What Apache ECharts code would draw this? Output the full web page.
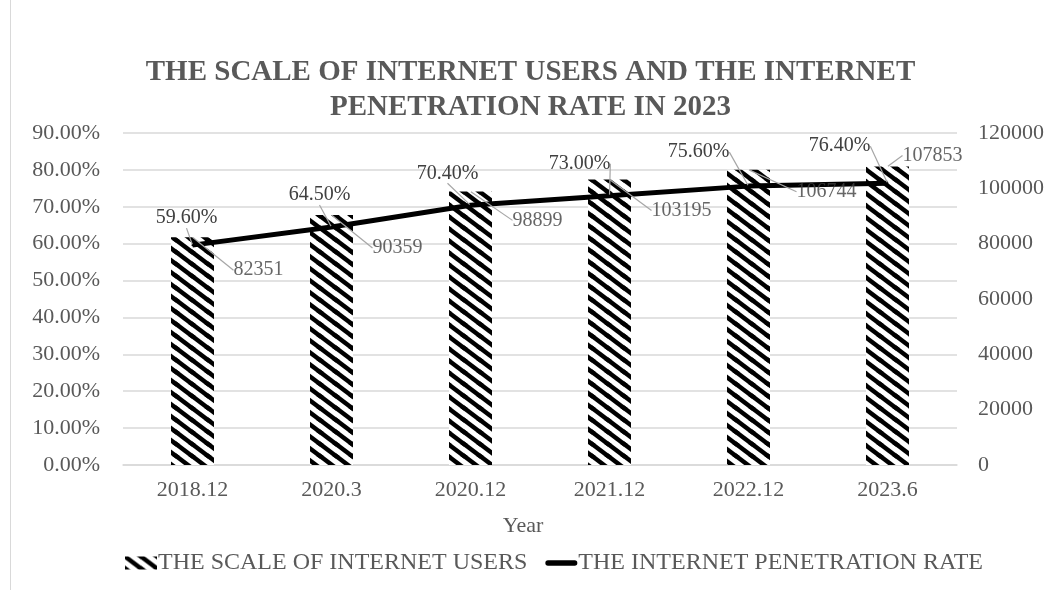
<!DOCTYPE html>
<html>
<head>
<meta charset="utf-8">
<style>
  html, body { margin: 0; padding: 0; background: #ffffff; }
  #chart { width: 1061px; height: 590px; }
</style>
<script src="https://cdn.jsdelivr.net/npm/echarts@6/dist/echarts.min.js"></script>
</head>
<body>
<div id="chart"></div>
<script>
// Survey periods and the two measured series
const periods = ['2018.12', '2020.3', '2020.12', '2021.12', '2022.12', '2023.6'];
const internetUsers = [82351, 90359, 98899, 103195, 106744, 107853];      // ten thousand people
const penetrationRate = [59.6, 64.5, 70.4, 73.0, 75.6, 76.4];              // percent

// Where each data label sits relative to its point (pixels)
const rateLabelShift = [[-6, -27], [-12, -32], [-23, -32], [-30, -32], [-50, -34], [-48, -37]];
const userLabelShift = [[66, 33], [66, 33], [67, 29], [72, 31], [78, 22], [45, -11]];

const FONT = '"Liberation Serif", "Times New Roman", serif';
const GREY = '#595959';

// Wide downward-diagonal hatch used to fill the bars
function makeHatch() {
  const w = 16, h = 12;
  const c = document.createElement('canvas');
  c.width = w; c.height = h;
  const ctx = c.getContext('2d');
  ctx.fillStyle = '#ffffff';
  ctx.fillRect(0, 0, w, h);
  ctx.strokeStyle = '#000000';
  ctx.lineWidth = 4.5;
  [[-w, 0], [0, 0], [w, 0], [0, -h], [0, h]].forEach(([ox, oy]) => {
    ctx.beginPath();
    ctx.moveTo(ox - w, oy - h);
    ctx.lineTo(ox + 2 * w, oy + 2 * h);
    ctx.stroke();
  });
  return c;
}
const hatch = { image: makeHatch(), repeat: 'repeat' };

// Thick round-ended stroke for the rate series legend key
const lineKey = 'path://M3,0 L33,0 A3,3 0 0 1 33,6 L3,6 A3,3 0 0 1 3,0 Z';

const chart = echarts.init(document.getElementById('chart'), null, { renderer: 'canvas' });

chart.setOption({
  backgroundColor: '#ffffff',
  animation: false,
  title: {
    text: 'THE SCALE OF INTERNET USERS AND THE INTERNET\nPENETRATION RATE IN 2023',
    left: 'center',
    top: 50,
    textStyle: { fontFamily: FONT, fontWeight: 'bold', fontSize: 29, lineHeight: 35, color: GREY }
  },
  legend: {
    top: 546,
    left: 120,
    itemGap: 18,
    itemWidth: 32,
    itemHeight: 13,
    textStyle: { fontFamily: FONT, fontSize: 24, color: GREY, padding: [0, 0, 0, -4] },
    data: [
      { name: 'THE SCALE OF INTERNET USERS', icon: 'rect' },
      { name: 'THE INTERNET PENETRATION RATE', icon: lineKey, itemStyle: { color: '#000000' } }
    ]
  },
  grid: { left: 123, right: 104, top: 133, bottom: 125 },
  xAxis: {
    type: 'category',
    data: periods,
    name: 'Year',
    nameLocation: 'middle',
    nameGap: 50,
    nameTextStyle: { fontFamily: FONT, fontSize: 22, color: GREY, padding: [0, 34, 0, 0] },
    axisTick: { show: false },
    axisLine: { lineStyle: { color: '#d9d9d9', width: 1.5 } },
    axisLabel: { fontFamily: FONT, fontSize: 22, color: GREY, margin: 14 }
  },
  yAxis: [
    {
      type: 'value',
      min: 0, max: 90, interval: 10,
      axisLine: { show: false },
      axisTick: { show: false },
      splitLine: { lineStyle: { color: '#d9d9d9', width: 1.5 } },
      axisLabel: {
        fontFamily: FONT, fontSize: 22, color: GREY, margin: 23,
        formatter: v => v.toFixed(2) + '%'
      }
    },
    {
      type: 'value',
      min: 0, max: 120000, interval: 20000,
      axisLine: { show: false },
      axisTick: { show: false },
      splitLine: { show: false },
      axisLabel: {
        fontFamily: FONT, fontSize: 22, color: GREY, margin: 21,
        formatter: v => String(v)
      }
    }
  ],
  series: [
    {
      name: 'THE SCALE OF INTERNET USERS',
      type: 'bar',
      yAxisIndex: 1,
      data: internetUsers,
      barWidth: 43,
      itemStyle: { color: hatch }
    },
    {
      name: 'THE INTERNET PENETRATION RATE',
      type: 'line',
      yAxisIndex: 0,
      data: penetrationRate,
      symbol: 'circle',
      symbolSize: 2,
      showSymbol: true,
      itemStyle: { color: '#000000' },
      lineStyle: { color: '#000000', width: 5 },
      z: 5,
      label: {
        show: true,
        position: 'inside',
        fontFamily: FONT,
        fontSize: 20,
        color: '#404040',
        formatter: p => p.value.toFixed(2) + '%'
      },
      labelLayout: p => ({ dx: rateLabelShift[p.dataIndex][0], dy: rateLabelShift[p.dataIndex][1] }),
      labelLine: { show: true, lineStyle: { color: '#a6a6a6', width: 1.2 } }
    },
    {
      name: 'usersLabel',
      type: 'scatter',
      yAxisIndex: 1,
      data: internetUsers,
      symbolSize: 1,
      silent: true,
      itemStyle: { color: 'rgba(0,0,0,0)' },
      z: 6,
      label: {
        show: true,
        position: 'inside',
        fontFamily: FONT,
        fontSize: 20,
        color: '#404040',
        formatter: p => String(p.value)
      },
      labelLayout: p => ({ dx: userLabelShift[p.dataIndex][0], dy: userLabelShift[p.dataIndex][1] }),
      labelLine: { show: true, lineStyle: { color: '#a6a6a6', width: 1.2 } }
    }
  ],
  graphic: [
    {
      type: 'line',
      shape: { x1: 10.5, y1: 0, x2: 10.5, y2: 590 },
      style: { stroke: '#d9d9d9', lineWidth: 1 }
    }
  ]
});
</script>
</body>
</html>
